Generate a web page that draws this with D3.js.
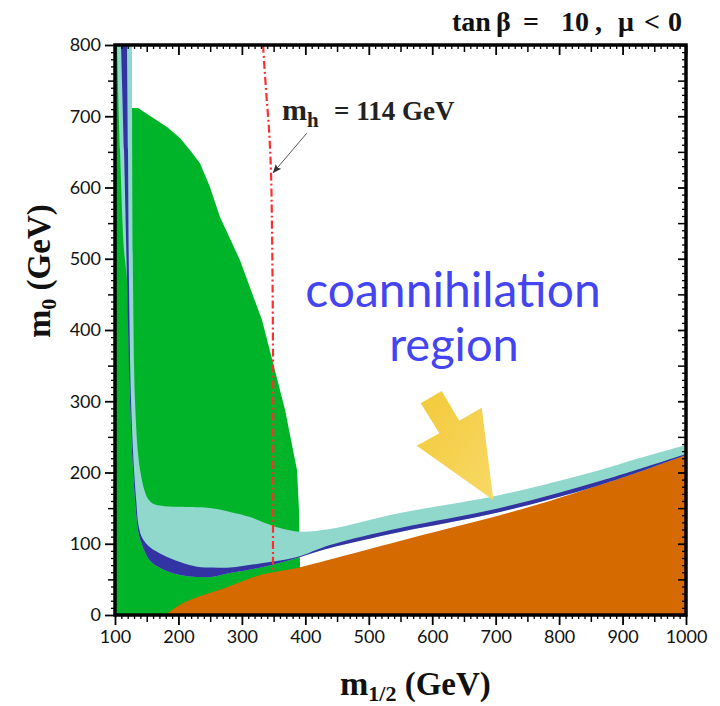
<!DOCTYPE html>
<html><head><meta charset="utf-8">
<script src="https://cdn.jsdelivr.net/npm/d3@7"></script>
<style>body{margin:0;background:#fff}svg{display:block}</style>
</head><body>
<script>
// ---- data (m1/2 [GeV], m0 [GeV]) ----
const xTickLabels = [100,200,300,400,500,600,700,800,900,1000];
const yTickLabels = [0,100,200,300,400,500,600,700,800];

// b -> s gamma excluded region (green)
const greenRegion = [[100,0],[100,800],[112,800],[123.6,711.6],[136.3,711.6],[182,685],[202.5,669.5],[218,652.6],[234,634],[249.7,600.7],[265.5,558.6],[297,498],[331.7,414],[352,344],[368,288],[379,238.6],[386.9,203.5],[390,147],[391.6,67],[392,0]];
// charged LSP region (orange), upper boundary
const orangeBoundary = [[180,0],[183.5,3],[210,18],[276.5,39],[328.6,56],[386.9,66],[438.9,78],[549.2,104],[628,122],[706.9,140],[785,160],[864.5,183],[1000,226]];
// preferred relic density band (light cyan): lower and upper edges
const cyanLower = [[103.2,800],[107.9,652.6],[114.2,512.3],[118.9,470.2],[123.6,301.8],[128.4,203.5],[133.5,140],[137,115],[142,100],[155.2,76],[175.7,64],[202.5,56.1],[229.3,53.3],[254.5,53.8],[281.3,58.9],[333.3,67.4],[386.9,80],[438.9,94],[549.2,116.5],[706.9,144.6],[864.5,182.5],[1000,224.6]];
const cyanUpper = [[126.8,800],[128.4,470.2],[131.5,301.8],[136.5,225],[141,196],[146,176],[152,163],[160,156],[175.7,153],[249.7,150.2],[281.3,144.6],[312.8,137.5],[336.4,129.1],[360.1,122.1],[391.6,117],[438.9,120.7],[549.2,143.2],[706.9,168.4],[864.5,203.5],[916.5,217.5],[1000,238.6]];
// WMAP band (dark blue): lower and upper edges
const blueLower = [[109.5,800],[114.2,652.6],[118.9,470.2],[123.6,301.8],[128.4,203.5],[133.5,140],[137,115],[142,100],[155.2,76],[175.7,64],[202.5,56.1],[229.3,53.3],[254.5,53.8],[281.3,58.9],[333.3,67.4],[386.9,80],[438.9,94],[549.2,116.5],[706.9,144.6],[864.5,182.5],[1000,224.6]];
const blueUpper = [[118.9,800],[120.5,652.6],[122,470.2],[125.2,301.8],[130,203.5],[133.5,160],[137,126],[143,108],[155.2,95],[175.7,84.2],[202.5,74.4],[229.3,67.8],[254.5,66.5],[281.3,66.5],[333.3,73],[386.9,81.4],[438.9,98.2],[549.2,122.1],[706.9,150.2],[864.5,188],[1000,226]];
// m_h = 114 GeV contour
const mhLine = [[333.3,800],[338,737],[342.8,680.7],[345.9,620.4],[347.5,540.4],[349,372],[349,60.4]];
// annotation: big yellow arrow (data coords)
const yellowArrow = [[581.9,297.1],[615.0,314.4],[642.7,272.7],[678.0,290.9],[696.3,161.4],[575.6,237.6],[611.2,255.0]];
const mhPointer = [[402.2,676.1],[349.5,621]];

// ---- layout ----
const W = 720, H = 706;
const x = d3.scaleLinear([100,1000],[115,686]);
const y = d3.scaleLinear([0,800],[615,45]);
const serif = "'Liberation Serif','DejaVu Serif',serif";
const sans = "Lato,'Open Sans',sans-serif";

const svg = d3.select("body").append("svg").attr("width",W).attr("height",H);
svg.append("rect").attr("width",W).attr("height",H).attr("fill","#fff");

const defs = svg.append("defs");
defs.append("clipPath").attr("id","plot").append("rect")
  .attr("x",x(100)).attr("y",y(800)).attr("width",x(1000)-x(100)).attr("height",y(0)-y(800));
const grad = defs.append("linearGradient").attr("id","yg").attr("x1","0").attr("y1","0").attr("x2","1").attr("y2","1");
grad.append("stop").attr("offset","0").attr("stop-color","#f3c93a");
grad.append("stop").attr("offset","1").attr("stop-color","#f8d966");
defs.append("marker").attr("id","ah").attr("viewBox","0 0 10 10").attr("refX",9).attr("refY",5)
  .attr("markerWidth",9).attr("markerHeight",9).attr("orient","auto").attr("markerUnits","userSpaceOnUse")
  .append("path").attr("d","M0,1 L10,5 L0,9 L2,5 Z").attr("fill","#333");

const line = d3.line().x(d=>x(d[0])).y(d=>y(d[1]));
const smooth = d3.line().x(d=>x(d[0])).y(d=>y(d[1])).curve(d3.curveCatmullRom.alpha(0.5));
const poly = pts => line(pts) + "Z";
const band = (lo,hi) => smooth(lo) + "L" + smooth(hi.slice().reverse()).slice(1) + "Z";

const g = svg.append("g").attr("clip-path","url(#plot)");
g.append("path").attr("d",poly(greenRegion)).attr("fill","#00b429");
g.append("path").attr("d",smooth(orangeBoundary)+"L"+x(1000)+","+y(0)+"Z").attr("fill","#d46a00");
g.append("path").attr("d",band(cyanLower,cyanUpper)).attr("fill","#8fd8cb");
g.append("path").attr("d",band(blueLower,blueUpper)).attr("fill","#3333a3");
g.append("path").attr("d",smooth(mhLine)).attr("fill","none").attr("stroke","#ff2e2e")
  .attr("stroke-width",2.2).attr("stroke-dasharray","8,3,2,3");

// yellow arrow
svg.append("path").attr("d",poly(yellowArrow)).attr("fill","url(#yg)");

// pointer to mh line
svg.append("path").attr("d",line(mhPointer)).attr("stroke","#555").attr("stroke-width",1)
  .attr("fill","none").attr("marker-end","url(#ah)");

// axes
function addAxis(gen, tr, vals, size, fmt, sw){
  const a = svg.append("g").attr("transform",tr)
    .call(gen.tickValues(vals).tickSize(size).tickSizeOuter(0).tickFormat(fmt));
  a.select(".domain").remove();
  a.selectAll(".tick line").attr("stroke","#000").attr("stroke-width",sw);
  return a;
}
const xMinor = d3.range(100,1001,10).filter(v=>v%50);
const x50 = d3.range(150,1000,100);
const yMinor = d3.range(0,801,10).filter(v=>v%50);
const y50 = d3.range(50,800,100);
const none = ()=>"";
// bottom
addAxis(d3.axisBottom(x),`translate(0,${y(0)})`,xMinor,4,none,1.3);
addAxis(d3.axisBottom(x),`translate(0,${y(0)})`,x50,7,none,1.5);
const bx = addAxis(d3.axisBottom(x),`translate(0,${y(0)})`,xTickLabels,10,d3.format("d"),1.8);
bx.selectAll("text").attr("font-family",sans).attr("font-size",18).attr("fill","#111").attr("dy","0.95em").attr("y",11);
// left
addAxis(d3.axisLeft(y),`translate(${x(100)},0)`,yMinor,4,none,1.3);
addAxis(d3.axisLeft(y),`translate(${x(100)},0)`,y50,7,none,1.5);
const ly = addAxis(d3.axisLeft(y),`translate(${x(100)},0)`,yTickLabels,10,d3.format("d"),1.8);
ly.selectAll("text").attr("font-family",sans).attr("font-size",18).attr("fill","#111").attr("x",-14);
// top (inward)
addAxis(d3.axisTop(x),`translate(0,${y(800)})`,xMinor,-4,none,1.3);
addAxis(d3.axisTop(x),`translate(0,${y(800)})`,x50,-7,none,1.5);
addAxis(d3.axisTop(x),`translate(0,${y(800)})`,xTickLabels,-10,none,1.8);
// right (inward)
addAxis(d3.axisRight(y),`translate(${x(1000)},0)`,yMinor,-4,none,1.3);
addAxis(d3.axisRight(y),`translate(${x(1000)},0)`,y50,-8,none,1.5);
addAxis(d3.axisRight(y),`translate(${x(1000)},0)`,yTickLabels,-8,none,1.8);

// frame
svg.append("rect").attr("x",x(100)).attr("y",y(800)).attr("width",x(1000)-x(100)).attr("height",y(0)-y(800))
  .attr("fill","none").attr("stroke","#000").attr("stroke-width",3.5);

// title
const t = svg.append("text").attr("font-family",serif).attr("font-weight","bold").attr("font-size",28).attr("fill","#111").attr("y",31);
[["tan",452],["β",496],["=",523],["10",561],[",",595],["μ",618],["<",644],["0",668]].forEach(([s,px])=>
  t.append("tspan").attr("x",px).text(s));

// x label
const xl = svg.append("text").attr("font-family",serif).attr("font-weight","bold").attr("fill","#111")
  .attr("x",340).attr("y",695);
xl.append("tspan").attr("font-size",34).text("m");
xl.append("tspan").attr("font-size",22).attr("dy",6).text("1/2");
xl.append("tspan").attr("font-size",33).attr("dy",-6).text(" (GeV)");

// y label
const yl = svg.append("text").attr("font-family",serif).attr("font-weight","bold").attr("fill","#111")
  .attr("transform","translate(50,338) rotate(-90)");
yl.append("tspan").attr("font-size",34).text("m");
yl.append("tspan").attr("font-size",22).attr("dy",6).text("0");
yl.append("tspan").attr("font-size",33).attr("dy",-6).text(" (GeV)");

// mh label
const ml = svg.append("text").attr("font-family",serif).attr("font-weight","bold").attr("fill","#222").attr("y",120);
ml.append("tspan").attr("x",282).attr("font-size",30).text("m");
ml.append("tspan").attr("x",307).attr("dy",7).attr("font-size",21).text("h");
ml.append("tspan").attr("x",334).attr("dy",-7).attr("font-size",27).text("= 114 GeV");

// coannihilation text
svg.append("text").attr("x",453).attr("y",307).attr("text-anchor","middle").attr("font-family",sans)
  .attr("font-size",48).attr("fill","#4444f0").text("coannihilation");
svg.append("text").attr("x",454).attr("y",361).attr("text-anchor","middle").attr("font-family",sans)
  .attr("font-size",47).attr("fill","#4444f0").text("region");
</script>
</body></html>
